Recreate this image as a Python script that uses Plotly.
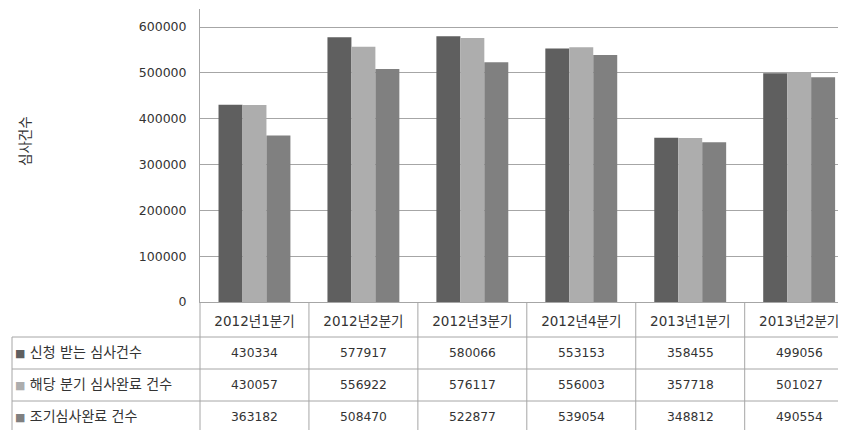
import plotly.graph_objects as go

categories = ["2012년1분기", "2012년2분기", "2012년3분기", "2012년4분기", "2013년1분기", "2013년2분기"]
series_names = ["신청 받는 심사건수", "해당 분기 심사완료 건수", "조기심사완료 건수"]
applied = [430334, 577917, 580066, 553153, 358455, 499056]
completed = [430057, 556922, 576117, 556003, 357718, 501027]
early = [363182, 508470, 522877, 539054, 348812, 490554]
y_tick_values = [0, 100000, 200000, 300000, 400000, 500000, 600000]
y_axis_title = "심사건수"

series_values = [applied, completed, early]
colors = ["#5f5f5f", "#adadad", "#808080"]

# the page body has an 8px margin; figure is sized/placed to compensate
OFF = 8
W, H = 846 - OFF, 430 - OFF
ML, MR, MT, MB = 200 - OFF, 0, 9 - OFF, 128
PW, PH = W - ML - MR, H - MT - MB
FONT = "DejaVu Sans, Noto Sans CJK KR"
LINE = "#a6a6a6"
TXT = "#333333"


def px(xp):
    return (xp - OFF - ML) / PW


def py(yp):
    return (H - MB - (yp - OFF)) / PH


fig = go.Figure()
for name, vals, c in zip(series_names, series_values, colors):
    fig.add_trace(go.Bar(x=categories, y=vals, name=name, marker=dict(color=c, line=dict(width=0))))

shapes = []
for yl in [337, 369, 401]:
    shapes.append(dict(type="line", xref="paper", yref="paper", x0=px(12), x1=1, y0=py(yl), y1=py(yl),
                       line=dict(color=LINE, width=1)))
shapes.append(dict(type="line", xref="paper", yref="paper", x0=px(12), x1=px(12), y0=py(337), y1=py(432),
                   line=dict(color=LINE, width=1)))
shapes.append(dict(type="line", xref="paper", yref="paper", x0=0, x1=0, y0=0, y1=py(432),
                   line=dict(color=LINE, width=1)))
for i in range(len(categories) - 1):
    shapes.append(dict(type="line", xref="x", yref="paper", x0=i + 0.5, x1=i + 0.5, y0=0, y1=py(432),
                       line=dict(color=LINE, width=1)))

annotations = []
row_centers = [353, 385, 417]
for r, (name, vals, c) in enumerate(zip(series_names, series_values, colors)):
    for i, v in enumerate(vals):
        annotations.append(dict(xref="x", yref="paper", x=i, y=py(row_centers[r]), text=str(v),
                                showarrow=False, font=dict(family=FONT, size=12.3, color=TXT),
                                xanchor="center", yanchor="middle"))
    annotations.append(dict(xref="paper", yref="paper", x=px(13), y=py(row_centers[r] - 1),
                            text=f'<span style="color:{c};font-size:11px">■</span> {name}',
                            showarrow=False, font=dict(family=FONT, size=14, color=TXT),
                            xanchor="left", yanchor="middle"))

annotations.append(dict(xref="paper", yref="paper", x=px(25), y=py(141), text=y_axis_title, textangle=-90,
                        showarrow=False, font=dict(family=FONT, size=13.5, color=TXT),
                        xanchor="center", yanchor="middle"))

fig.update_layout(
    width=W, height=H,
    margin=dict(l=ML, r=MR, t=MT, b=MB, pad=0),
    paper_bgcolor="white", plot_bgcolor="white",
    barmode="group", bargap=0.34, bargroupgap=0,
    showlegend=False,
    font=dict(family=FONT, size=13, color=TXT),
    shapes=shapes, annotations=annotations,
    xaxis=dict(type="category", range=[-0.5, 5.43], showline=True, linecolor=LINE, linewidth=1,
               showgrid=False, ticks="", tickfont=dict(family=FONT, size=13.5, color=TXT),
               ticklabelstandoff=7),
    yaxis=dict(range=[0, 639300], tickvals=y_tick_values, ticktext=[str(v) for v in y_tick_values],
               showline=True, linecolor=LINE, linewidth=1, gridcolor=LINE, gridwidth=1,
               ticks="", zeroline=False,
               tickfont=dict(family=FONT, size=12.5, color=TXT), ticklabelstandoff=10),
)

fig.write_html("out.html")
